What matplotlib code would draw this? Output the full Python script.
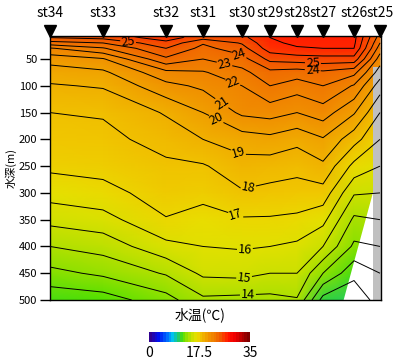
import numpy as np
import matplotlib

matplotlib.use("Agg")
import matplotlib.pyplot as plt
from matplotlib.colors import LinearSegmentedColormap, Normalize
from matplotlib.cm import ScalarMappable

plt.rcParams["font.family"] = ["Noto Sans CJK JP", "DejaVu Sans"]

# stations (west -> east), distance along section
stations = ["st34", "st33", "st32", "st31", "st30", "st29", "st28", "st27", "st26", "st25"]
distance = [0, 53, 116, 153, 192, 220, 247, 273, 304, 330]
depths = [0, 10, 20, 30, 50, 75, 100, 150, 200, 250, 300, 350, 400, 450, 500]

# water temperature (deg C), one row per depth, one column per station
temp = np.array([
    [25.8, 25.9, 26.6, 25.7, 25.9, 27.2, 27.4, 27.4, 27.4, 23.8],
    [25.0, 25.3, 26.5, 25.4, 25.7, 27.0, 27.3, 27.3, 27.3, 23.5],
    [23.6, 24.0, 25.7, 24.1, 25.1, 26.8, 27.2, 27.2, 27.2, 23.0],
    [21.9, 22.9, 25.0, 23.7, 24.6, 26.5, 26.9, 27.0, 27.0, 22.5],
    [20.4, 20.9, 23.8, 23.0, 23.6, 25.3, 25.5, 25.6, 25.6, 21.5],
    [19.5, 19.8, 21.7, 21.9, 22.7, 23.7, 23.5, 23.8, 23.3, 20.5],
    [18.9, 19.1, 20.7, 21.2, 22.0, 23.0, 22.5, 23.0, 21.9, 19.5],
    [18.0, 18.1, 19.1, 20.0, 21.2, 21.4, 21.0, 21.5, 20.1, 18.0],
    [17.6, 17.7, 18.4, 19.0, 19.5, 19.7, 19.3, 19.9, 18.4, 17.0],
    [17.2, 17.3, 17.8, 17.9, 18.6, 18.5, 18.3, 18.8, 16.7, 16.0],
    [16.4, 16.7, 17.4, 17.3, 17.9, 17.7, 17.6, 17.6, 15.1, 15.0],
    [15.3, 15.6, 16.95, 16.6, 16.9, 16.9, 16.8, 16.3, 13.8, 14.0],
    [14.0, 14.4, 15.7, 16.0, 16.1, 16.0, 15.8, 15.0, 12.8, 13.0],
    [12.7, 13.2, 14.1, 15.2, 15.3, 15.0, 15.0, 13.0, 11.3, 12.0],
    [11.3, 11.5, 12.6, 13.8, 13.7, 13.7, 13.9, 10.6, 10.2, 11.5],
])

# no-data areas near the eastern end
seafloor_x = [293, 323]
seafloor_top = [500, 295]
st25_cast_depth = 64

contour_levels = np.arange(10, 29, 1)
label_pos = [(78, 20), (190, 36), (175, 55), (183, 92), (172, 132), (165, 167),
             (190, 216), (197, 281), (185, 345), (195, 407), (195, 468), (198, 494),
             (263, 55), (263, 64)]

# rainbow-ish colour scale 0 .. 35
cmap_nodes = [
    (0, "#300090"), (3, "#0010f0"), (6, "#0070ff"), (8, "#00c0f0"),
    (9.5, "#10c890"), (10.5, "#30d040"), (11.5, "#50e000"), (12.5, "#80e000"),
    (13.5, "#a0e000"), (14.5, "#c0e000"), (15.5, "#d8e000"), (16.5, "#e8e000"),
    (17.5, "#f0c800"), (18.5, "#f0b800"), (19.5, "#f0a800"), (21, "#f09000"),
    (23, "#f07800"), (25, "#f05800"), (26.5, "#ff3000"), (28, "#ff1000"),
    (30, "#f00000"), (35, "#800000")]
cmap = LinearSegmentedColormap.from_list("wt", [(v / 35, c) for v, c in cmap_nodes])
norm = Normalize(0, 35)

fig = plt.figure(figsize=(4, 3.6), dpi=100)
ax = fig.add_axes([50 / 400, 60 / 360, 331 / 400, 264 / 360])

X, Y = np.meshgrid(distance, depths)
ax.pcolormesh(X, Y, temp, cmap=cmap, norm=norm, shading="gouraud")
cs = ax.contour(X, Y, temp, levels=contour_levels, colors="black", linewidths=0.7)
ax.clabel(cs, fmt="%d", fontsize=9, inline=True, inline_spacing=1, manual=label_pos)

ax.fill_between(seafloor_x, seafloor_top, 500, color="white", lw=0)
ax.fill_between([seafloor_x[1], 331], st25_cast_depth, 500, color="#c0c0c0", lw=0)

ax.set_xlim(0, 331)
ax.set_ylim(500, 7)
ax.set_xticks([])
ax.set_yticks(np.arange(50, 501, 50))
ax.tick_params(axis="y", length=7, width=1, labelsize=8, pad=2)
ax.set_ylabel("水深(m)", fontsize=8, labelpad=2)
for s in ax.spines.values():
    s.set_linewidth(1)

# station markers
for name, d in zip(stations, distance):
    ax.plot(d, 1.02, marker="v", color="black", markersize=8,
            transform=ax.get_xaxis_transform(), clip_on=False)
    ax.text(d, 1.062, name, transform=ax.get_xaxis_transform(), ha="center",
            va="bottom", fontsize=10)

fig.text(0.5, 45 / 360, "水温(℃)", ha="center", va="center", fontsize=10)
cax = fig.add_axes([149 / 400, 18 / 360, 101 / 400, 10 / 360])
cb = fig.colorbar(ScalarMappable(norm=norm, cmap=cmap.resampled(36)), cax=cax,
                  orientation="horizontal", ticks=[0, 17.5, 35])
cb.outline.set_visible(False)
cb.ax.tick_params(length=0, labelsize=10, pad=3)
cb.ax.set_xticklabels(["0", "17.5", "35"])

fig.savefig("out.png", dpi=100)
